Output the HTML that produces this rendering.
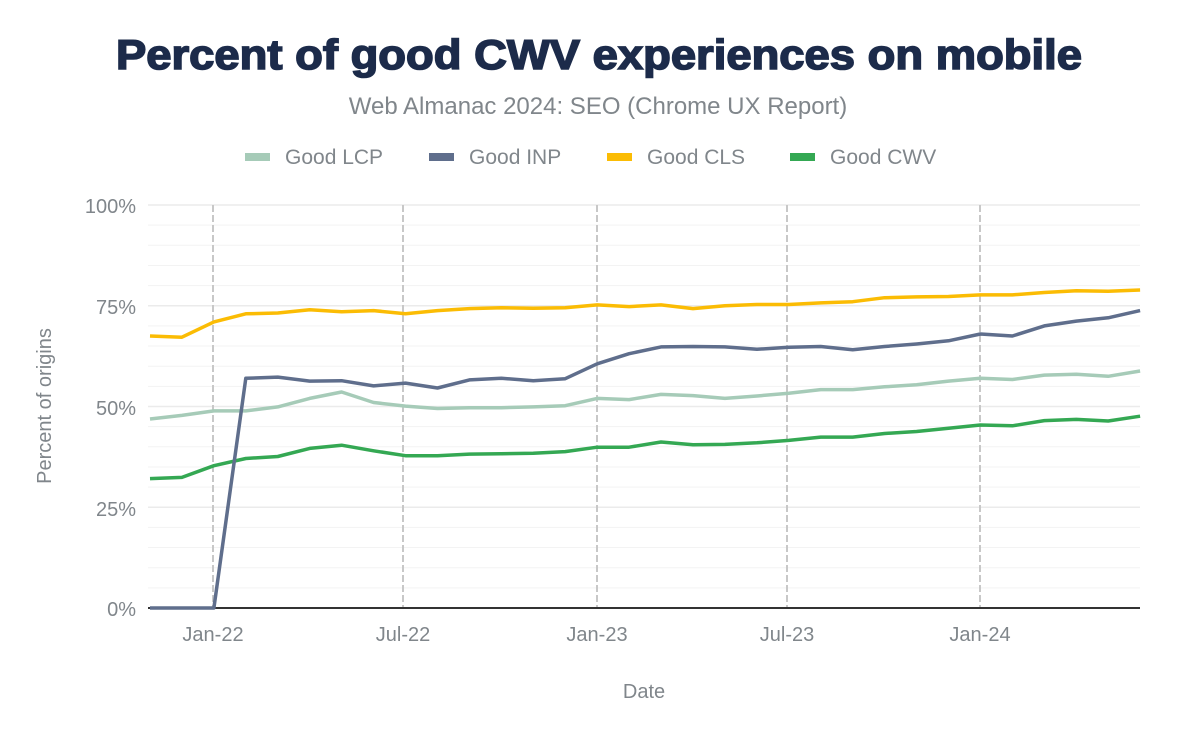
<!DOCTYPE html>
<html><head><meta charset="utf-8"><style>
html,body{margin:0;padding:0;background:#fff;}
svg{display:block;font-family:"Liberation Sans",sans-serif;}
</style></head><body>
<svg id="c" width="1200" height="742" xmlns="http://www.w3.org/2000/svg">
<text x="599" y="69" text-anchor="middle" font-size="42" font-weight="900" fill="#1c2b4a" textLength="966" lengthAdjust="spacingAndGlyphs" stroke="#1c2b4a" stroke-width="1.6">Percent of good CWV experiences on mobile</text>
<text x="598" y="114" text-anchor="middle" font-size="24" fill="#80868b">Web Almanac 2024: SEO (Chrome UX Report)</text>
<g font-size="21" fill="#80868b">
<rect x="245" y="153" width="25" height="8" fill="#a6cbb8"/><text x="285" y="164">Good LCP</text>
<rect x="429" y="153" width="25" height="8" fill="#5f6e8c"/><text x="469" y="164">Good INP</text>
<rect x="607" y="153" width="25" height="8" fill="#fbbc04"/><text x="647" y="164">Good CLS</text>
<rect x="790" y="153" width="25" height="8" fill="#34a853"/><text x="830" y="164">Good CWV</text>
</g>
<g id="grid"></g>
<g font-size="20" fill="#80868b" text-anchor="end">
<text x="136" y="213">100%</text><text x="136" y="314">75%</text><text x="136" y="415">50%</text><text x="136" y="516">25%</text><text x="136" y="616">0%</text>
</g>
<g font-size="20" fill="#80868b" text-anchor="middle">
<text x="213" y="641">Jan-22</text><text x="403" y="641">Jul-22</text><text x="597" y="641">Jan-23</text><text x="787" y="641">Jul-23</text><text x="980" y="641">Jan-24</text>
<text x="644" y="698">Date</text>
<text transform="translate(51,406) rotate(-90)">Percent of origins</text>
</g>
<g id="lines" fill="none" stroke-width="3.5" stroke-linejoin="round"></g>
</svg>
<script>
var ns="http://www.w3.org/2000/svg";
function el(p,t,a){var e=document.createElementNS(ns,t);for(var k in a)e.setAttribute(k,a[k]);document.getElementById(p).appendChild(e);}
for(var i=1;i<=20;i++){var y=608-i*20.15;el("grid","line",{x1:148,x2:1140,y1:y,y2:y,stroke:i%5==0?"#ebebeb":"#f3f3f3","stroke-width":i%5==0?1.5:1});}
[213,403,597,787,980].forEach(function(x){el("grid","line",{x1:x,x2:x,y1:205,y2:608,stroke:"#c8c8c8","stroke-width":2,"stroke-dasharray":"7,3"});});
el("grid","line",{x1:148,x2:1140,y1:608,y2:608,stroke:"#333","stroke-width":2});
var X=[];
for(var i=0;i<32;i++){X.push(150+i*31.94);}
var D={
"#fbbc04":[67.5,67.2,71,73,73.2,74,73.5,73.8,73,73.8,74.3,74.5,74.4,74.5,75.2,74.8,75.2,74.3,75,75.3,75.3,75.7,76,77,77.2,77.3,77.7,77.7,78.3,78.7,78.6,78.9],
"#a6cbb8":[46.9,47.8,48.9,48.9,49.9,52,53.6,51,50.1,49.5,49.7,49.7,49.9,50.2,52,51.7,53,52.7,52,52.6,53.3,54.2,54.2,54.9,55.4,56.3,57,56.7,57.8,58,57.5,58.8],
"#34a853":[32.1,32.4,35.3,37.1,37.6,39.6,40.4,39,37.8,37.8,38.2,38.3,38.4,38.8,39.9,39.9,41.2,40.5,40.6,41,41.6,42.4,42.4,43.3,43.8,44.6,45.4,45.2,46.5,46.8,46.4,47.6],
"#5f6e8c":[0,0,0,57,57.3,56.3,56.4,55.1,55.8,54.6,56.6,57,56.4,56.9,60.6,63.1,64.8,64.9,64.8,64.2,64.7,64.9,64.1,64.9,65.5,66.3,68,67.5,70,71.2,72,73.8]};
for(var c in D){var p=D[c].map(function(v,i){return X[i].toFixed(1)+","+(608-4.03*v).toFixed(1);}).join(" ");el("lines","polyline",{points:p,stroke:c});}
</script>
</body></html>
